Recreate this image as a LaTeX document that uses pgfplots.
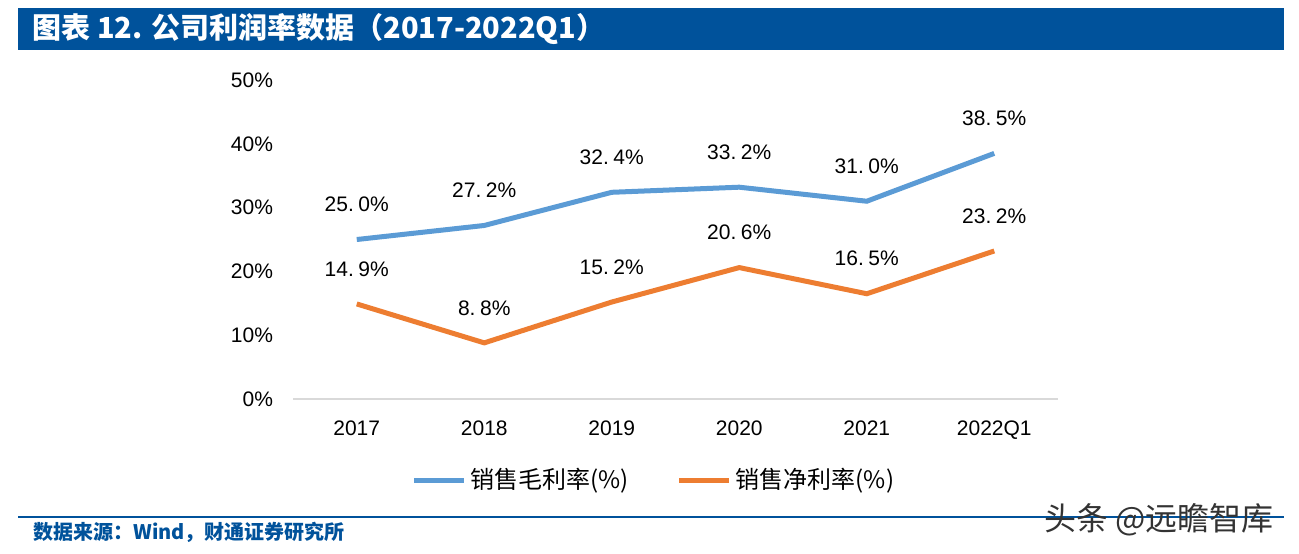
\documentclass[border=0pt]{standalone}
\usepackage{pgfplots}
\pgfplotsset{compat=1.18}
\usepackage{fontspec}
\setmainfont{Liberation Sans}
\newfontfamily\cjk{Noto Sans CJK SC}
\definecolor{titleblue}{RGB}{0,82,155}
\definecolor{sblue}{RGB}{91,155,213}
\definecolor{sorange}{RGB}{237,125,49}
\definecolor{axgray}{RGB}{217,217,217}
\begin{document}
\begin{tikzpicture}
\useasboundingbox (0pt,0pt) rectangle (649.5pt,276.5pt);
% title bar
\fill[titleblue] (9pt,251.5pt) rectangle (642pt,272.5pt);
\node[anchor=west,text=white,font=\cjk\bfseries\fontsize{14.5}{16}\selectfont,inner sep=0] at (16pt,262pt) {图表 12. 公司利润率数据（2017-2022Q1）};
% bottom rule and source
\draw[titleblue,line width=1pt] (9pt,18pt) -- (642pt,18pt);
\node[anchor=west,text=titleblue,font=\cjk\bfseries\fontsize{10}{12}\selectfont,inner sep=0] at (16.5pt,10.5pt) {数据来源：Wind，财通证券研究所};
\node[anchor=west,text=black!80,font=\cjk\fontsize{16}{18}\selectfont,inner sep=0] at (522pt,16.5pt) {头条 @远瞻智库};
\begin{axis}[
  at={(146.5pt,77pt)}, anchor=south west,
  scale only axis, width=382.5pt, height=159.5pt,
  xmin=-0.5, xmax=5.5, ymin=0, ymax=50,
  axis x line*=bottom,
  axis y line*=left,
  y axis line style={draw=none},
  x axis line style={axgray,line width=1pt,-},
  xtick={0,1,2,3,4,5},
  xticklabels={2017,2018,2019,2020,2021,2022Q1},
  ytick={0,10,20,30,40,50},
  yticklabels={0\%,10\%,20\%,30\%,40\%,50\%},
  major tick length=0pt,
  tick label style={font=\fontsize{10.5}{12}\selectfont},
  xticklabel style={yshift=-7.5pt},
  yticklabel style={xshift=-6.5pt},
  clip=false,
  point meta=explicit symbolic,
  nodes near coords,
  every node near coord/.append style={anchor=center,yshift=17.5pt,font=\fontsize{10.5}{12}\selectfont,text=black},
  legend columns=2,
  legend style={draw=none,at={(0.473,-0.254)},anchor=center,font=\cjk\fontsize{12}{14}\selectfont,
    /tikz/every even column/.append style={column sep=22pt}},
  legend image code/.code={\draw[#1,line width=2.5pt] (0pt,0pt) -- (25pt,0pt);},
]
\addplot[sblue,line width=2.5pt] coordinates {
 (0,25.0) [25.\hspace{0.22em}0\%] (1,27.2) [27.\hspace{0.22em}2\%] (2,32.4) [32.\hspace{0.22em}4\%] (3,33.2) [33.\hspace{0.22em}2\%] (4,31.0) [31.\hspace{0.22em}0\%] (5,38.5) [38.\hspace{0.22em}5\%]};
\addlegendentry{销售毛利率(\%)}
\addplot[sorange,line width=2.5pt] coordinates {
 (0,14.9) [14.\hspace{0.22em}9\%] (1,8.8) [8.\hspace{0.22em}8\%] (2,15.2) [15.\hspace{0.22em}2\%] (3,20.6) [20.\hspace{0.22em}6\%] (4,16.5) [16.\hspace{0.22em}5\%] (5,23.2) [23.\hspace{0.22em}2\%]};
\addlegendentry{销售净利率(\%)}
\end{axis}
\end{tikzpicture}
\end{document}
